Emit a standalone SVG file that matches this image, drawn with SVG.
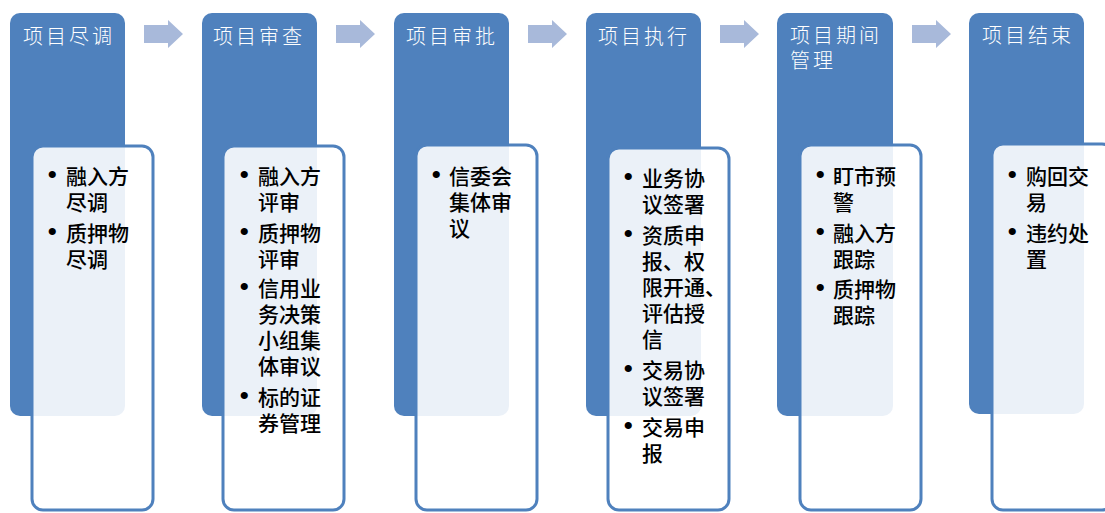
<svg xmlns="http://www.w3.org/2000/svg" width="1105" height="513" viewBox="0 0 1105 513">
<style>
.hdr{fill:#4F81BD}
.box{fill:#FFFFFF;fill-opacity:0.89;stroke:#4F81BD;stroke-width:3}
.arr{fill:#A8B9DA}
.ht{font-family:"Noto Sans CJK SC",sans-serif;font-size:20px;fill:#FFFFFF;letter-spacing:3px;font-weight:300}
.bt{font-family:"Noto Sans CJK SC",sans-serif;font-size:21px;fill:#000000;font-weight:500}
.bl{font-family:"Liberation Serif",serif;font-size:30px}
</style>
<defs>
<path id="arrow" d="M0 25 H24 V20 L39 34 L24 48 V43 H0 Z"/>
</defs>
<rect width="1105" height="513" fill="#FFFFFF"/>
<g id="connectors">
<use href="#arrow" class="arr" x="144"/>
<use href="#arrow" class="arr" x="336"/>
<use href="#arrow" class="arr" x="528"/>
<use href="#arrow" class="arr" x="720"/>
<use href="#arrow" class="arr" x="912"/>
</g>
<g id="node1">
<rect class="hdr" x="10" y="13" width="115" height="403" rx="10"/>
<rect class="box" x="32" y="146" width="121" height="364" rx="11"/>
<text class="ht" x="23" y="44">项目尽调</text>
<text class="bt"><tspan class="bl" x="47" y="185">•</tspan><tspan x="66" y="184">融入方</tspan><tspan x="66" y="210">尽调</tspan><tspan class="bl" x="47" y="242">•</tspan><tspan x="66" y="241">质押物</tspan><tspan x="66" y="267">尽调</tspan></text>
</g>
<g id="node2">
<rect class="hdr" x="202" y="13" width="115" height="403" rx="10"/>
<rect class="box" x="223" y="146" width="121" height="364" rx="11"/>
<text class="ht" x="213" y="44">项目审查</text>
<text class="bt"><tspan class="bl" x="239" y="185">•</tspan><tspan x="258" y="184">融入方</tspan><tspan x="258" y="210">评审</tspan><tspan class="bl" x="239" y="242">•</tspan><tspan x="258" y="241">质押物</tspan><tspan x="258" y="267">评审</tspan><tspan class="bl" x="239" y="297">•</tspan><tspan x="258" y="296">信用业</tspan><tspan x="258" y="322">务决策</tspan><tspan x="258" y="348">小组集</tspan><tspan x="258" y="374">体审议</tspan><tspan class="bl" x="239" y="406">•</tspan><tspan x="258" y="405">标的证</tspan><tspan x="258" y="431">券管理</tspan></text>
</g>
<g id="node3">
<rect class="hdr" x="394" y="13" width="115" height="403" rx="10"/>
<rect class="box" x="416" y="145" width="121" height="365" rx="11"/>
<text class="ht" x="406" y="44">项目审批</text>
<text class="bt"><tspan class="bl" x="431" y="185">•</tspan><tspan x="449" y="184">信委会</tspan><tspan x="449" y="210">集体审</tspan><tspan x="449" y="236">议</tspan></text>
</g>
<g id="node4">
<rect class="hdr" x="586" y="13" width="115" height="403" rx="10"/>
<rect class="box" x="608" y="148" width="121" height="362" rx="11"/>
<text class="ht" x="598" y="44">项目执行</text>
<text class="bt"><tspan class="bl" x="623" y="187">•</tspan><tspan x="642" y="186">业务协</tspan><tspan x="642" y="212">议签署</tspan><tspan class="bl" x="623" y="244">•</tspan><tspan x="642" y="243">资质申</tspan><tspan x="642" y="269">报、权</tspan><tspan x="642" y="295">限开通、</tspan><tspan x="642" y="321">评估授</tspan><tspan x="642" y="347">信</tspan><tspan class="bl" x="623" y="379">•</tspan><tspan x="642" y="378">交易协</tspan><tspan x="642" y="404">议签署</tspan><tspan class="bl" x="623" y="436">•</tspan><tspan x="642" y="435">交易申</tspan><tspan x="642" y="461">报</tspan></text>
</g>
<g id="node5">
<rect class="hdr" x="777" y="13" width="116" height="403" rx="10"/>
<rect class="box" x="800" y="145" width="121" height="365" rx="11"/>
<text class="ht"><tspan x="790" y="43">项目期间</tspan><tspan x="790" y="68">管理</tspan></text>
<text class="bt"><tspan class="bl" x="815" y="185">•</tspan><tspan x="833" y="184">盯市预</tspan><tspan x="833" y="210">警</tspan><tspan class="bl" x="815" y="242">•</tspan><tspan x="833" y="241">融入方</tspan><tspan x="833" y="267">跟踪</tspan><tspan class="bl" x="815" y="298">•</tspan><tspan x="833" y="297">质押物</tspan><tspan x="833" y="323">跟踪</tspan></text>
</g>
<g id="node6">
<rect class="hdr" x="969" y="13" width="115" height="401" rx="10"/>
<rect class="box" x="992" y="144" width="121" height="366" rx="11"/>
<text class="ht" x="982" y="43">项目结束</text>
<text class="bt"><tspan class="bl" x="1007" y="185">•</tspan><tspan x="1026" y="184">购回交</tspan><tspan x="1026" y="210">易</tspan><tspan class="bl" x="1007" y="242">•</tspan><tspan x="1026" y="241">违约处</tspan><tspan x="1026" y="267">置</tspan></text>
</g>
</svg>
